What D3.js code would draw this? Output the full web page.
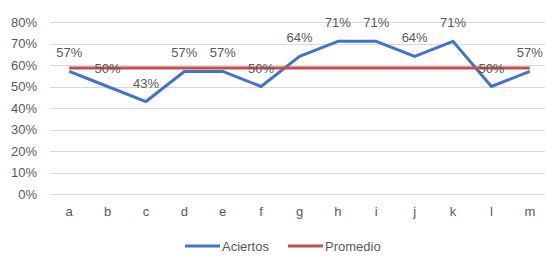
<!DOCTYPE html>
<html>
<head>
<meta charset="utf-8">
<script src="https://cdn.jsdelivr.net/npm/d3@7"></script>
<style>
  body { margin: 0; background: #fff; }
  text { font-family: "Liberation Sans", Arial, sans-serif; fill: #595959; }
</style>
</head>
<body>
<div id="chart"></div>
<script>
// data
var categories = ["a", "b", "c", "d", "e", "f", "g", "h", "i", "j", "k", "l", "m"];
var aciertos = [0.57, 0.50, 0.43, 0.57, 0.57, 0.50, 0.64, 0.71, 0.71, 0.64, 0.71, 0.50, 0.57];
var promedio = [0.586, 0.586, 0.586, 0.586, 0.586, 0.586, 0.586, 0.586, 0.586, 0.586, 0.586, 0.586, 0.586];
var yTicks = [0, 0.1, 0.2, 0.3, 0.4, 0.5, 0.6, 0.7, 0.8];

var svgWidth = 545, svgHeight = 263;
var plotLeft = 50, plotRight = 549, plotTop = 22, plotBottom = 194;

var svg = d3.select("#chart").append("svg")
  .attr("width", svgWidth)
  .attr("height", svgHeight);

var x = d3.scaleBand().domain(categories).range([plotLeft, plotRight]);
var y = d3.scaleLinear().domain([0, 0.8]).range([plotBottom, plotTop]);

// gridlines
svg.append("g")
  .selectAll("line")
  .data(yTicks)
  .enter()
  .append("line")
  .attr("x1", plotLeft)
  .attr("x2", plotRight)
  .attr("y1", d => Math.round(y(d)) + 0.5)
  .attr("y2", d => Math.round(y(d)) + 0.5)
  .attr("stroke", "#d9d9d9")
  .attr("stroke-width", 1);

// y axis labels
var leftAxis = d3.axisLeft(y).tickValues(yTicks).tickFormat(d3.format(".0%")).tickSize(0).tickPadding(0);
var yAxis = svg.append("g")
  .attr("transform", "translate(37,0)")
  .call(leftAxis);
yAxis.select(".domain").remove();
yAxis.selectAll("text").style("font-size", "13px").attr("fill", "#595959");

// x axis labels
var bottomAxis = d3.axisBottom(x).tickSize(0).tickPadding(0);
var xAxis = svg.append("g")
  .attr("transform", "translate(0,207)")
  .call(bottomAxis);
xAxis.select(".domain").remove();
xAxis.selectAll("text").style("font-size", "13px").attr("fill", "#595959");

var cx = d => x(d) + x.bandwidth() / 2;

var line = d3.line()
  .x((d, i) => cx(categories[i]))
  .y(d => y(d));

svg.append("path")
  .datum(aciertos)
  .attr("d", line)
  .attr("fill", "none")
  .attr("stroke", "#4472c4")
  .attr("stroke-width", 3)
  .attr("stroke-linejoin", "round");

svg.append("path")
  .datum(promedio)
  .attr("d", line)
  .attr("fill", "none")
  .attr("stroke", "#c0504d")
  .attr("stroke-width", 3);

// value labels above points
svg.append("g")
  .selectAll("text")
  .data(aciertos)
  .enter()
  .append("text")
  .attr("x", (d, i) => cx(categories[i]))
  .attr("y", d => y(d) - 14)
  .attr("text-anchor", "middle")
  .style("font-size", "13px")
  .text(d => d3.format(".0%")(d));

// legend
var legend = [["Aciertos", "#4472c4", 185], ["Promedio", "#c0504d", 288]];
legend.forEach(function(l) {
  svg.append("line")
    .attr("x1", l[2]).attr("x2", l[2] + 35)
    .attr("y1", 246).attr("y2", 246)
    .attr("stroke", l[1]).attr("stroke-width", 3);
  svg.append("text")
    .attr("x", l[2] + 37).attr("y", 251)
    .style("font-size", "13px")
    .text(l[0]);
});
</script>
</body>
</html>
